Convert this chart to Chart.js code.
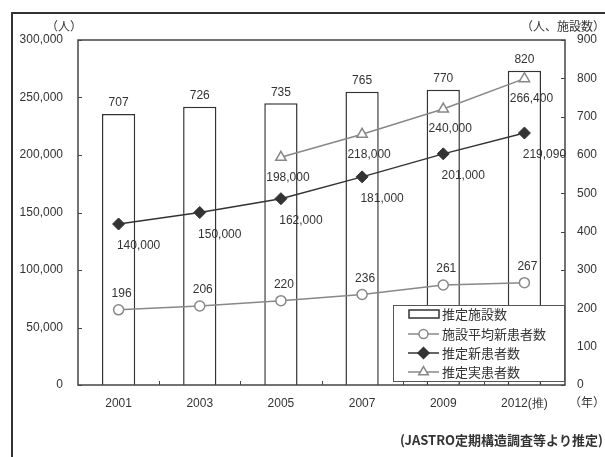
<!DOCTYPE html>
<html>
<head>
<meta charset="utf-8">
<script src="https://cdn.jsdelivr.net/npm/chart.js@4.4.0/dist/chart.umd.min.js"></script>
<style>
  body { margin: 0; background: #fff; }
  #wrap { width: 605px; height: 457px; }
</style>
</head>
<body>
<div id="wrap"><canvas id="chart" width="605" height="457"></canvas></div>
<script>
const years = ['2001', '2003', '2005', '2007', '2009', '2012(推)'];
const facilities = [707, 726, 735, 765, 770, 820];
const avgNewPatients = [196, 206, 220, 236, 261, 267];
const newPatients = [140000, 150000, 162000, 181000, 201000, 219090];
const actualPatients = [null, null, 198000, 218000, 240000, 266400];

const NUM_FONT = '12px "Liberation Sans", Arial, sans-serif';
const JP_FONT = '"Noto Sans CJK JP", "Liberation Sans", sans-serif';
const TEXT = '#333';

function fmt(v) {
    return v.toLocaleString('en-US');
}

// value labels, frame, inward ticks, legend and notes
const decorations = {
    id: 'decorations',
    afterDatasetsDraw(chart) {
        const ctx = chart.ctx;
        const area = chart.chartArea;
        ctx.save();

        // plot frame
        ctx.strokeStyle = '#444';
        ctx.lineWidth = 1.5;
        ctx.strokeRect(area.left, area.top, area.right - area.left, area.bottom - area.top);

        // inward tick marks
        ctx.lineWidth = 1;
        const yL = chart.scales.yL, yR = chart.scales.yR, x = chart.scales.x;
        yL.ticks.forEach(t => {
            const py = Math.round(yL.getPixelForValue(t.value)) + 0.5;
            ctx.beginPath(); ctx.moveTo(area.left, py); ctx.lineTo(area.left + 4, py); ctx.stroke();
        });
        yR.ticks.forEach(t => {
            const py = Math.round(yR.getPixelForValue(t.value)) + 0.5;
            ctx.beginPath(); ctx.moveTo(area.right, py); ctx.lineTo(area.right - 4, py); ctx.stroke();
        });
        for (let i = 1; i < years.length; i++) {
            const px = Math.round((x.getPixelForValue(i - 1) + x.getPixelForValue(i)) / 2) + 0.5;
            ctx.beginPath(); ctx.moveTo(px, area.bottom); ctx.lineTo(px, area.bottom - 4); ctx.stroke();
        }

        // value labels
        ctx.font = NUM_FONT;
        ctx.fillStyle = TEXT;
        ctx.textAlign = 'center';
        ctx.textBaseline = 'middle';
        const offsets = [[0, -11], [3, -16], [20, 22], [7, 20]];
        chart.data.datasets.forEach((ds, di) => {
            const meta = chart.getDatasetMeta(di);
            meta.data.forEach((el, i) => {
                const v = ds.data[i];
                if (v === null) return;
                ctx.fillText(fmt(v), el.x + offsets[di][0], el.y + offsets[di][1]);
            });
        });
        ctx.restore();
    },
    afterDraw(chart) {
        const ctx = chart.ctx;
        const area = chart.chartArea;
        ctx.save();

        // outer frame
        ctx.strokeStyle = '#333';
        ctx.lineWidth = 2;
        ctx.beginPath();
        ctx.moveTo(12, 457); ctx.lineTo(12, 13); ctx.lineTo(605, 13);
        ctx.stroke();

        // legend
        const lx = 393, ly = 305, lw = area.right - lx, lh = 77;
        ctx.fillStyle = '#fff';
        ctx.fillRect(lx, ly, lw, lh);
        ctx.strokeStyle = '#555';
        ctx.lineWidth = 1;
        ctx.strokeRect(lx + 0.5, ly + 0.5, lw - 1, lh - 1);
        const rows = [314, 334, 353, 372];
        chart.data.datasets.forEach((ds, i) => {
            const cy = rows[i];
            if (ds.type === 'line') {
                ctx.strokeStyle = ds.borderColor;
                ctx.lineWidth = 1.5;
                ctx.beginPath(); ctx.moveTo(408, cy); ctx.lineTo(439, cy); ctx.stroke();
                ctx.fillStyle = ds.pointBackgroundColor;
                Chart.helpers.drawPoint(ctx, {
                    pointStyle: ds.pointStyle, radius: ds.pointRadius - 0.5,
                    rotation: 0, borderWidth: 1.5
                }, 423.5, cy);
            } else {
                ctx.fillStyle = '#fff';
                ctx.strokeStyle = '#333';
                ctx.lineWidth = 1.5;
                ctx.fillRect(409, cy - 4, 30, 8);
                ctx.strokeRect(409, cy - 4, 30, 8);
            }
            ctx.fillStyle = TEXT;
            ctx.font = '13px ' + JP_FONT;
            ctx.textAlign = 'left';
            ctx.textBaseline = 'middle';
            ctx.fillText(ds.label, 442, cy);
        });

        // axis units and source
        ctx.fillStyle = TEXT;
        ctx.textBaseline = 'middle';
        ctx.font = '12px ' + JP_FONT;
        ctx.textAlign = 'left';
        ctx.fillText('（人）', 46, 26);
        ctx.textAlign = 'right';
        ctx.fillText('（人、施設数）', 605, 26);
        ctx.fillText('（年）', 605, 402);
        ctx.font = 'bold 13px ' + JP_FONT;
        ctx.fillText('(JASTRO定期構造調査等より推定)', 603, 440);
        ctx.restore();
    }
};

new Chart(document.getElementById('chart'), {
    type: 'bar',
    data: {
        labels: years,
        datasets: [
            {
                type: 'bar',
                label: '推定施設数',
                data: facilities,
                yAxisID: 'yR',
                backgroundColor: '#fff',
                borderColor: '#333',
                borderWidth: 1.5,
                barPercentage: 0.41,
                categoryPercentage: 1,
                order: 10
            },
            {
                type: 'line',
                label: '施設平均新患者数',
                data: avgNewPatients,
                yAxisID: 'yR',
                borderColor: '#888',
                borderWidth: 1.5,
                pointStyle: 'circle',
                pointRadius: 5,
                pointBackgroundColor: '#fff',
                pointBorderColor: '#888',
                pointBorderWidth: 1.5,
                order: 3
            },
            {
                type: 'line',
                label: '推定新患者数',
                data: newPatients,
                yAxisID: 'yL',
                borderColor: '#333',
                borderWidth: 1.5,
                pointStyle: 'rectRot',
                pointRadius: 6,
                pointBackgroundColor: '#333',
                pointBorderColor: '#333',
                pointBorderWidth: 1,
                order: 1
            },
            {
                type: 'line',
                label: '推定実患者数',
                data: actualPatients,
                yAxisID: 'yL',
                borderColor: '#888',
                borderWidth: 1.5,
                pointStyle: 'triangle',
                pointRadius: 6,
                pointBackgroundColor: '#fff',
                pointBorderColor: '#888',
                pointBorderWidth: 1.5,
                order: 2
            }
        ]
    },
    options: {
        responsive: false,
        animation: false,
        layout: { padding: { top: 40, left: 0, right: 0, bottom: 0 } },
        plugins: {
            legend: { display: false },
            tooltip: { enabled: false }
        },
        scales: {
            x: {
                offset: true,
                grid: { display: false, drawTicks: false },
                border: { display: false },
                ticks: { color: TEXT, font: { size: 12, family: '"Liberation Sans", Arial' }, padding: 11 },
                afterFit(s) { s.height = 72; }
            },
            yL: {
                type: 'linear',
                position: 'left',
                min: 0,
                max: 300000,
                grid: { display: false, drawTicks: false },
                border: { display: false },
                ticks: {
                    stepSize: 50000,
                    color: TEXT,
                    font: { size: 12, family: '"Liberation Sans", Arial' },
                    padding: 15,
                    callback: v => fmt(v)
                },
                afterFit(s) { s.width = 78; }
            },
            yR: {
                type: 'linear',
                position: 'right',
                min: 0,
                max: 900,
                grid: { display: false, drawTicks: false },
                border: { display: false },
                ticks: {
                    stepSize: 100,
                    color: TEXT,
                    font: { size: 12, family: '"Liberation Sans", Arial' },
                    padding: 12
                },
                afterFit(s) { s.width = 40; }
            }
        }
    },
    plugins: [decorations]
});
</script>
</body>
</html>
